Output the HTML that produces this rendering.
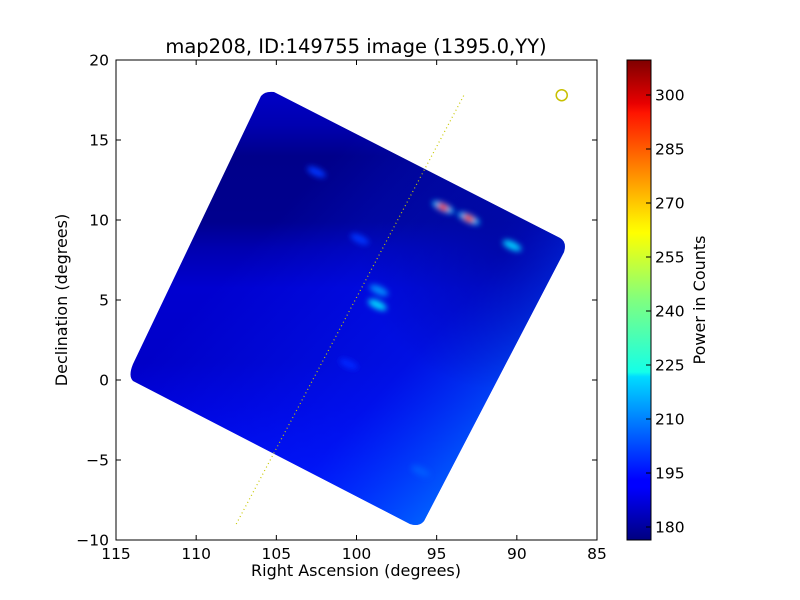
<!DOCTYPE html>
<html><head><meta charset="utf-8"><style>
body{margin:0;background:#fff;}
svg{display:block;font-family:"DejaVu Sans","Liberation Sans",sans-serif;}
</style></head><body>
<svg id="chart" width="800" height="600" viewBox="0 0 800 600">
<defs>
<linearGradient id="jet" x1="0" y1="1" x2="0" y2="0">
<stop offset="0" stop-color="#00007f"/><stop offset="0.11" stop-color="#0000ff"/><stop offset="0.125" stop-color="#0000ff"/>
<stop offset="0.34" stop-color="#00dbff"/><stop offset="0.35" stop-color="#14ffe8"/><stop offset="0.5" stop-color="#80ff7f"/>
<stop offset="0.64" stop-color="#ffff00"/><stop offset="0.66" stop-color="#fff000"/><stop offset="0.89" stop-color="#ff1400"/>
<stop offset="0.91" stop-color="#e80000"/><stop offset="1" stop-color="#7f0000"/>
</linearGradient>
<linearGradient id="vert" gradientUnits="userSpaceOnUse" x1="0" y1="90" x2="0" y2="530">
<stop offset="0" stop-color="#0000c8"/><stop offset="0.08" stop-color="#0000b0"/><stop offset="0.15" stop-color="#00008a"/>
<stop offset="0.3" stop-color="#00008e"/><stop offset="0.36" stop-color="#0000b0"/><stop offset="0.45" stop-color="#0000d0"/>
<stop offset="0.62" stop-color="#0000c8"/><stop offset="0.72" stop-color="#0000d8"/><stop offset="1" stop-color="#0010ff"/>
</linearGradient>
<linearGradient id="diag" gradientUnits="userSpaceOnUse" x1="200" y1="300" x2="440" y2="520">
<stop offset="0" stop-color="#0020ff" stop-opacity="0"/><stop offset="0.6" stop-color="#0020ff" stop-opacity="0.5"/><stop offset="1" stop-color="#0070ff" stop-opacity="0.9"/>
</linearGradient>
<radialGradient id="rightdark" gradientUnits="userSpaceOnUse" cx="500" cy="250" r="140">
<stop offset="0" stop-color="#000080" stop-opacity="0.5"/><stop offset="1" stop-color="#000080" stop-opacity="0"/>
</radialGradient>
<clipPath id="mapclip"><path d="M261,96 Q265,91 274,92 L560,238 Q567,242 564,252 L424,521 Q419,527 410,524 L133,381 Q128,376 133,364 Z"/></clipPath>
<filter id="blur" x="-50%" y="-50%" width="200%" height="200%"><feGaussianBlur stdDeviation="3"/></filter>
</defs>
<text x="356" y="53" font-size="19.5" text-anchor="middle">map208, ID:149755 image (1395.0,YY)</text>
<g clip-path="url(#mapclip)">
<rect x="116" y="60" width="481" height="480" fill="url(#vert)"/>
<rect x="116" y="60" width="481" height="480" fill="url(#diag)"/>
<rect x="116" y="60" width="481" height="480" fill="url(#rightdark)"/>
<g id="spots" filter="url(#blur)"></g>
</g>
<rect x="116" y="60" width="481" height="480" fill="none" stroke="#000" stroke-width="1"/>
<g id="axes"></g>
<line id="track" stroke="#c8c800" stroke-width="1.2" stroke-dasharray="1,3"/>
<circle id="marker" r="5.5" fill="none" stroke="#c8c000" stroke-width="1.5"/>
<text transform="translate(67,300) rotate(-90)" font-size="16" text-anchor="middle">Declination (degrees)</text>
<text x="356" y="576" font-size="16" text-anchor="middle">Right Ascension (degrees)</text>
<rect x="627" y="60" width="24" height="480" fill="url(#jet)" stroke="#000"/>
<g id="cbticks"></g>
<text transform="translate(705,300) rotate(-90)" font-size="16" text-anchor="middle">Power in Counts</text>
</svg>
<script>
const xTicks=[115,110,105,100,95,90,85];
const yTicks=[20,15,10,5,0,-5,-10];
const cbTicks=[180,195,210,225,240,255,270,285,300];
const spotRA=[94.6,93.0,90.3,98.7,98.6,100.5,102.5,96.0,99.8];
const spotDec=[10.8,10.1,8.4,4.7,5.6,1.0,13.0,-5.7,8.8];
const spotVal=[290,285,220,222,212,198,200,205,200];
const trackRA=[107.5,93.3];
const trackDec=[-9.0,17.8];
const markerRA=[87.2];
const markerDec=[17.8];
const NS='http://www.w3.org/2000/svg';
const sx=v=>116+(115-v)*(481/30);
const sy=v=>540-(v+10)*16;
const cy=v=>527-(v-180)*3.6;
function jet(v){const t=Math.max(0,Math.min(1,(v-176.4)/(309.7-176.4)));
const r=Math.min(1,Math.max(0,1.5-Math.abs(4*t-3))),g=Math.min(1,Math.max(0,1.5-Math.abs(4*t-2))),b=Math.min(1,Math.max(0,1.5-Math.abs(4*t-1)));
return `rgb(${r*255|0},${g*255|0},${b*255|0})`;}
function mk(tag,attrs,parent){const e=document.createElementNS(NS,tag);for(const k in attrs)e.setAttribute(k,attrs[k]);parent.appendChild(e);return e;}
const ax=document.getElementById('axes');
xTicks.forEach(v=>{const x=sx(v);
const t=mk('line',{x1:x,x2:x,y1:540,y2:535,stroke:'#000'},ax);


const t2=mk('line',{x1:x,x2:x,y1:60,y2:65,stroke:'#000'},ax);


const l=mk('text',{x:x,y:559,'font-size':15.5,'text-anchor':'middle'},ax);l.textContent=v;

});
yTicks.forEach(v=>{const y=sy(v);
const t=mk('line',{x1:116,x2:121,y1:y,y2:y,stroke:'#000'},ax);


const t2=mk('line',{x1:592,x2:597,y1:y,y2:y,stroke:'#000'},ax);


const l=mk('text',{x:109,y:y+5.5,'font-size':15.5,'text-anchor':'end'},ax);l.textContent=v===-5?'\u22125':v===-10?'\u221210':v;

});
const cb=document.getElementById('cbticks');
cbTicks.forEach(v=>{const y=cy(v);
const t=mk('line',{x1:646,x2:651,y1:y,y2:y,stroke:'#000'},cb);


const l=mk('text',{x:655,y:y+5.5,'font-size':15.5},cb);l.textContent=v;

});
const sp=document.getElementById('spots');
spotRA.forEach((ra,i)=>{const v=spotVal[i];const hot=v>250;
const e=mk('ellipse',{cx:sx(ra),cy:sy(spotDec[i]),rx:hot?12:10,ry:4,fill:hot?'#00c0ff':jet(v),transform:`rotate(25 ${sx(ra)} ${sy(spotDec[i])})`},sp);


if(hot){const c=mk('ellipse',{cx:sx(ra),cy:sy(spotDec[i]),rx:6,ry:3,fill:jet(v),transform:`rotate(25 ${sx(ra)} ${sy(spotDec[i])})`},sp);

}});
const tr=document.getElementById('track');
tr.setAttribute('x1',sx(trackRA[0]));tr.setAttribute('y1',sy(trackDec[0]));
tr.setAttribute('x2',sx(trackRA[1]));tr.setAttribute('y2',sy(trackDec[1]));
const m=document.getElementById('marker');
m.setAttribute('cx',sx(markerRA[0]));m.setAttribute('cy',sy(markerDec[0]));
</script>
</body></html>
